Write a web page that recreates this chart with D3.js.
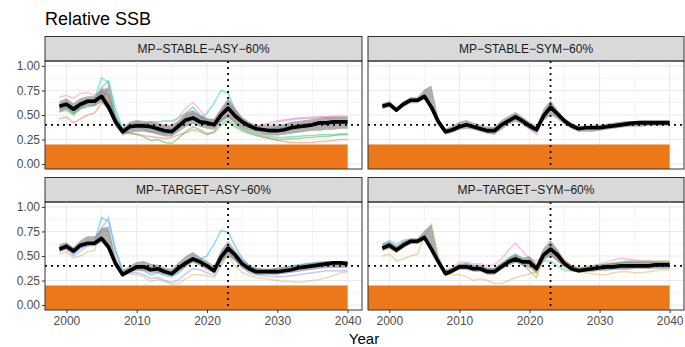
<!DOCTYPE html>
<html>
<head>
<meta charset="utf-8">
<script src="https://cdn.jsdelivr.net/npm/d3@7"></script>
<style>
  body { margin: 0; background: #fff; }
  svg { display: block; font-family: 'Liberation Sans', Arial, sans-serif; }
</style>
</head>
<body>
<div id="chart"></div>
<script>
// Relative SSB, 4 management procedures
const years = [1999, 2000, 2001, 2002, 2003, 2004, 2005, 2006, 2007, 2008,
  2009, 2010, 2011, 2012, 2013, 2014, 2015, 2016, 2017, 2018,
  2019, 2020, 2021, 2022, 2023, 2024, 2025, 2026, 2027, 2028,
  2029, 2030, 2031, 2032, 2033, 2034, 2035, 2036, 2037, 2038, 2039, 2040];

const panelNames = ['MP−STABLE−ASY−60%', 'MP−STABLE−SYM−60%', 'MP−TARGET−ASY−60%', 'MP−TARGET−SYM−60%'];

const limitRef = 0.2;   // orange zone
const targetRef = 0.4;  // horizontal dotted
const currentYear = 2023;
const yTicks = [0, 0.25, 0.5, 0.75, 1];
const xTicks = [2000, 2010, 2020, 2030, 2040];

// medians
const medStableAsy = [0.59, 0.61, 0.56, 0.61, 0.64, 0.64, 0.69, 0.58, 0.43, 0.33,
  0.38, 0.39, 0.39, 0.38, 0.36, 0.34, 0.33, 0.39, 0.45, 0.47,
  0.43, 0.42, 0.40, 0.50, 0.57, 0.49, 0.43, 0.39, 0.36, 0.35,
  0.34, 0.34, 0.35, 0.37, 0.38, 0.39, 0.40, 0.42, 0.42, 0.43, 0.43, 0.43];
const medStableSym = [0.59, 0.61, 0.55, 0.61, 0.65, 0.65, 0.69, 0.58, 0.43, 0.33,
  0.35, 0.38, 0.40, 0.38, 0.36, 0.34, 0.34, 0.40, 0.44, 0.48,
  0.44, 0.39, 0.35, 0.49, 0.58, 0.51, 0.44, 0.39, 0.36, 0.37,
  0.37, 0.37, 0.38, 0.39, 0.40, 0.41, 0.42, 0.42, 0.42, 0.42, 0.42, 0.42];
const medTargetAsy = [0.57, 0.60, 0.55, 0.61, 0.63, 0.63, 0.68, 0.59, 0.42, 0.31,
  0.35, 0.39, 0.39, 0.36, 0.37, 0.34, 0.32, 0.38, 0.43, 0.47,
  0.44, 0.40, 0.35, 0.49, 0.58, 0.51, 0.42, 0.37, 0.34, 0.34,
  0.34, 0.34, 0.35, 0.36, 0.38, 0.39, 0.40, 0.41, 0.42, 0.43, 0.43, 0.42];
const medTargetSym = [0.58, 0.61, 0.56, 0.61, 0.65, 0.65, 0.69, 0.57, 0.44, 0.32,
  0.35, 0.39, 0.39, 0.37, 0.37, 0.34, 0.34, 0.39, 0.44, 0.47,
  0.44, 0.44, 0.37, 0.51, 0.57, 0.51, 0.42, 0.37, 0.35, 0.36,
  0.37, 0.38, 0.39, 0.39, 0.40, 0.40, 0.40, 0.40, 0.40, 0.41, 0.41, 0.41];

// ribbons (lower / upper)
const loStableAsy = [0.53, 0.56, 0.51, 0.56, 0.59, 0.59, 0.63, 0.54, 0.38, 0.29,
  0.32, 0.33, 0.33, 0.32, 0.30, 0.28, 0.28, 0.33, 0.38, 0.41,
  0.38, 0.36, 0.35, 0.43, 0.47, 0.42, 0.37, 0.34, 0.32, 0.30,
  0.29, 0.29, 0.30, 0.31, 0.32, 0.33, 0.34, 0.34, 0.35, 0.35, 0.36, 0.36];
const hiStableAsy = [0.64, 0.67, 0.62, 0.67, 0.69, 0.69, 0.77, 0.77, 0.49, 0.37,
  0.43, 0.45, 0.44, 0.43, 0.42, 0.40, 0.39, 0.45, 0.52, 0.55,
  0.50, 0.47, 0.46, 0.57, 0.67, 0.57, 0.48, 0.43, 0.40, 0.39,
  0.39, 0.40, 0.41, 0.43, 0.44, 0.45, 0.46, 0.47, 0.48, 0.48, 0.48, 0.48];
const loStableSym = [0.56, 0.58, 0.53, 0.58, 0.62, 0.62, 0.66, 0.56, 0.40, 0.30,
  0.32, 0.35, 0.36, 0.35, 0.33, 0.31, 0.30, 0.35, 0.40, 0.43,
  0.40, 0.35, 0.32, 0.44, 0.50, 0.46, 0.40, 0.36, 0.33, 0.33,
  0.33, 0.34, 0.35, 0.36, 0.37, 0.38, 0.38, 0.38, 0.39, 0.39, 0.39, 0.39];
const hiStableSym = [0.62, 0.64, 0.58, 0.64, 0.68, 0.68, 0.76, 0.80, 0.47, 0.36,
  0.39, 0.43, 0.45, 0.42, 0.40, 0.38, 0.38, 0.45, 0.49, 0.53,
  0.48, 0.43, 0.39, 0.56, 0.65, 0.55, 0.47, 0.42, 0.39, 0.39,
  0.40, 0.40, 0.41, 0.42, 0.43, 0.44, 0.44, 0.45, 0.45, 0.45, 0.45, 0.45];
const loTargetAsy = [0.54, 0.57, 0.52, 0.58, 0.60, 0.60, 0.64, 0.56, 0.39, 0.29,
  0.33, 0.35, 0.35, 0.33, 0.33, 0.31, 0.29, 0.34, 0.39, 0.43,
  0.40, 0.36, 0.32, 0.44, 0.50, 0.45, 0.38, 0.34, 0.31, 0.31,
  0.31, 0.31, 0.32, 0.33, 0.34, 0.35, 0.36, 0.37, 0.38, 0.38, 0.38, 0.38];
const hiTargetAsy = [0.62, 0.64, 0.59, 0.66, 0.70, 0.70, 0.78, 0.80, 0.47, 0.35,
  0.40, 0.44, 0.45, 0.42, 0.41, 0.38, 0.37, 0.44, 0.50, 0.54,
  0.49, 0.45, 0.40, 0.56, 0.65, 0.56, 0.47, 0.41, 0.38, 0.37,
  0.37, 0.38, 0.39, 0.40, 0.41, 0.42, 0.43, 0.44, 0.45, 0.45, 0.45, 0.45];
const loTargetSym = [0.55, 0.58, 0.53, 0.58, 0.62, 0.62, 0.66, 0.55, 0.41, 0.29,
  0.33, 0.36, 0.36, 0.34, 0.34, 0.31, 0.31, 0.36, 0.40, 0.43,
  0.40, 0.38, 0.32, 0.46, 0.50, 0.45, 0.39, 0.35, 0.33, 0.34,
  0.34, 0.35, 0.35, 0.36, 0.36, 0.36, 0.37, 0.37, 0.37, 0.37, 0.37, 0.37];
const hiTargetSym = [0.62, 0.65, 0.60, 0.65, 0.68, 0.68, 0.76, 0.82, 0.48, 0.36,
  0.38, 0.42, 0.43, 0.41, 0.41, 0.38, 0.38, 0.43, 0.48, 0.52,
  0.48, 0.50, 0.42, 0.58, 0.66, 0.57, 0.46, 0.41, 0.38, 0.39,
  0.40, 0.41, 0.42, 0.43, 0.43, 0.44, 0.44, 0.44, 0.44, 0.44, 0.44, 0.44];

// individual iterations (worms)
const saPink = [0.68, 0.70, 0.67, 0.72, 0.73, 0.70, 0.75, 0.62, 0.45, 0.35,
  0.40, 0.42, 0.41, 0.40, 0.38, 0.38, 0.40, 0.48, 0.57, 0.63,
  0.55, 0.45, 0.45, 0.55, 0.63, 0.55, 0.45, 0.40, 0.38, 0.39,
  0.40, 0.42, 0.44, 0.45, 0.46, 0.47, 0.48, 0.48, 0.48, 0.49, 0.49, 0.49];
const saSalmon = [0.46, 0.48, 0.42, 0.46, 0.50, 0.52, 0.62, 0.80, 0.45, 0.33,
  0.31, 0.31, 0.29, 0.28, 0.27, 0.26, 0.27, 0.30, 0.32, 0.35,
  0.33, 0.30, 0.33, 0.45, 0.50, 0.42, 0.36, 0.32, 0.30, 0.28,
  0.26, 0.24, 0.23, 0.22, 0.22, 0.22, 0.22, 0.23, 0.23, 0.24, 0.25, 0.25];
const saGreen = [0.53, 0.55, 0.50, 0.56, 0.58, 0.60, 0.74, 0.70, 0.45, 0.33,
  0.32, 0.30, 0.28, 0.24, 0.25, 0.22, 0.21, 0.27, 0.33, 0.38,
  0.35, 0.31, 0.32, 0.40, 0.43, 0.38, 0.34, 0.31, 0.29, 0.27,
  0.26, 0.25, 0.25, 0.26, 0.26, 0.27, 0.27, 0.28, 0.28, 0.29, 0.30, 0.30];
const saMint = [0.55, 0.57, 0.52, 0.58, 0.62, 0.64, 0.78, 0.85, 0.55, 0.36,
  0.38, 0.40, 0.41, 0.43, 0.43, 0.44, 0.44, 0.47, 0.52, 0.58,
  0.50, 0.43, 0.40, 0.42, 0.45, 0.40, 0.36, 0.33, 0.31, 0.29,
  0.28, 0.27, 0.27, 0.28, 0.28, 0.29, 0.29, 0.30, 0.30, 0.30, 0.31, 0.31];
const saCyan = [0.60, 0.62, 0.57, 0.62, 0.65, 0.66, 0.88, 0.83, 0.50, 0.34,
  0.37, 0.38, 0.36, 0.33, 0.33, 0.31, 0.32, 0.38, 0.44, 0.48,
  0.46, 0.52, 0.62, 0.75, 0.72, 0.55, 0.46, 0.40, 0.37, 0.36,
  0.36, 0.37, 0.38, 0.39, 0.40, 0.41, 0.41, 0.42, 0.42, 0.42, 0.43, 0.43];
const saPurple = [0.57, 0.60, 0.56, 0.62, 0.64, 0.64, 0.70, 0.62, 0.45, 0.34,
  0.40, 0.42, 0.40, 0.38, 0.36, 0.35, 0.36, 0.42, 0.48, 0.52,
  0.48, 0.42, 0.43, 0.52, 0.62, 0.52, 0.44, 0.40, 0.38, 0.40,
  0.42, 0.44, 0.45, 0.46, 0.47, 0.47, 0.47, 0.48, 0.48, 0.48, 0.48, 0.48];
const ssPurple = [0.58, 0.60, 0.55, 0.62, 0.65, 0.66, 0.69, 0.57, 0.42, 0.31,
  0.34, 0.37, 0.39, 0.37, 0.35, 0.33, 0.33, 0.39, 0.43, 0.47,
  0.42, 0.36, 0.30, 0.47, 0.56, 0.50, 0.43, 0.38, 0.36, 0.37,
  0.38, 0.39, 0.40, 0.41, 0.42, 0.43, 0.43, 0.44, 0.44, 0.44, 0.44, 0.44];
const taCyan = [0.56, 0.58, 0.52, 0.58, 0.62, 0.64, 0.89, 0.85, 0.55, 0.36,
  0.36, 0.37, 0.35, 0.31, 0.33, 0.30, 0.29, 0.33, 0.40, 0.46,
  0.47, 0.50, 0.62, 0.76, 0.74, 0.60, 0.48, 0.40, 0.37, 0.36,
  0.36, 0.37, 0.38, 0.40, 0.41, 0.42, 0.43, 0.44, 0.44, 0.44, 0.44, 0.44];
const taLavender = [0.55, 0.57, 0.50, 0.55, 0.60, 0.62, 0.78, 0.89, 0.55, 0.34,
  0.33, 0.33, 0.31, 0.27, 0.28, 0.25, 0.23, 0.26, 0.32, 0.37,
  0.36, 0.33, 0.30, 0.42, 0.55, 0.46, 0.38, 0.33, 0.31, 0.30,
  0.29, 0.29, 0.29, 0.30, 0.31, 0.32, 0.33, 0.34, 0.35, 0.35, 0.35, 0.35];
const taTan = [0.52, 0.54, 0.48, 0.50, 0.54, 0.56, 0.78, 0.75, 0.48, 0.33,
  0.32, 0.31, 0.29, 0.24, 0.26, 0.24, 0.21, 0.22, 0.27, 0.31,
  0.31, 0.30, 0.28, 0.40, 0.50, 0.40, 0.33, 0.30, 0.28, 0.27,
  0.26, 0.25, 0.24, 0.24, 0.23, 0.24, 0.25, 0.26, 0.28, 0.30, 0.33, 0.34];
const tsPink = [0.62, 0.64, 0.60, 0.64, 0.66, 0.66, 0.70, 0.60, 0.45, 0.35,
  0.38, 0.44, 0.44, 0.42, 0.42, 0.40, 0.41, 0.47, 0.56, 0.63,
  0.55, 0.47, 0.45, 0.50, 0.52, 0.45, 0.40, 0.37, 0.37, 0.38,
  0.40, 0.42, 0.44, 0.46, 0.48, 0.47, 0.46, 0.45, 0.45, 0.44, 0.44, 0.44];
const tsTeal = [0.62, 0.66, 0.62, 0.66, 0.67, 0.66, 0.69, 0.58, 0.45, 0.34,
  0.37, 0.41, 0.41, 0.39, 0.39, 0.37, 0.37, 0.42, 0.48, 0.52,
  0.48, 0.43, 0.40, 0.45, 0.45, 0.40, 0.35, 0.35, 0.36, 0.37,
  0.38, 0.39, 0.40, 0.42, 0.43, 0.44, 0.44, 0.44, 0.44, 0.44, 0.43, 0.43];
const tsGreen = [0.58, 0.61, 0.56, 0.62, 0.65, 0.65, 0.68, 0.57, 0.43, 0.33,
  0.36, 0.40, 0.41, 0.39, 0.38, 0.36, 0.36, 0.41, 0.46, 0.50,
  0.46, 0.42, 0.38, 0.49, 0.55, 0.49, 0.42, 0.38, 0.37, 0.38,
  0.39, 0.40, 0.41, 0.42, 0.43, 0.44, 0.44, 0.44, 0.44, 0.44, 0.44, 0.44];
const tsOlive = [0.56, 0.58, 0.54, 0.60, 0.63, 0.64, 0.68, 0.58, 0.44, 0.31,
  0.34, 0.38, 0.38, 0.36, 0.36, 0.34, 0.33, 0.38, 0.43, 0.47,
  0.42, 0.35, 0.28, 0.48, 0.60, 0.55, 0.45, 0.40, 0.38, 0.39,
  0.40, 0.41, 0.42, 0.43, 0.44, 0.45, 0.45, 0.45, 0.45, 0.45, 0.45, 0.45];
const tsTan = [0.50, 0.52, 0.45, 0.47, 0.50, 0.52, 0.70, 0.82, 0.50, 0.32,
  0.31, 0.31, 0.29, 0.25, 0.27, 0.25, 0.22, 0.22, 0.25, 0.28,
  0.30, 0.32, 0.34, 0.45, 0.52, 0.45, 0.38, 0.35, 0.34, 0.33,
  0.32, 0.31, 0.31, 0.33, 0.34, 0.34, 0.33, 0.33, 0.34, 0.35, 0.36, 0.36];

const panels = [
  { name: panelNames[0], med: medStableAsy, lo: loStableAsy, hi: hiStableAsy,
    worms: [[saSalmon, '#F2784B'], [saGreen, '#3DB54A'], [saMint, '#22C28C'], [saCyan, '#1CC6D0'], [saPurple, '#B57BDB'], [saPink, '#FF8AC4']] },
  { name: panelNames[1], med: medStableSym, lo: loStableSym, hi: hiStableSym,
    worms: [[ssPurple, '#C77CE8']] },
  { name: panelNames[2], med: medTargetAsy, lo: loTargetAsy, hi: hiTargetAsy,
    worms: [[taTan, '#E0B45C'], [taLavender, '#8C95FF'], [taCyan, '#1BB3EC']] },
  { name: panelNames[3], med: medTargetSym, lo: loTargetSym, hi: hiTargetSym,
    worms: [[tsTan, '#E2B25E'], [tsOlive, '#A5B01E'], [tsGreen, '#4FBF63'], [tsTeal, '#2FCFC4'], [tsPink, '#F584DE']] },
];

const W = 685;
const H = 347;
const colX = [45, 368];
const colW = [317, 316];
const rowTop = [36.5, 177.5];
const stripH = 24.5;
const panelH = 108;

const svg = d3.select('#chart').append('svg').attr('width', W).attr('height', H);
svg.append('rect').attr('width', W).attr('height', H).attr('fill', '#fff');

svg.append('text')
  .attr('x', 45)
  .attr('y', 25)
  .style('font-size', '18px')
  .attr('fill', '#000')
  .text('Relative SSB');

svg.append('text')
  .attr('x', 364)
  .attr('y', 344)
  .attr('text-anchor', 'middle')
  .style('font-size', '15px')
  .attr('fill', '#000')
  .text('Year');

panels.forEach((p, i) => {
  const col = i % 2;
  const row = Math.floor(i / 2);
  const pw = colW[col];
  const left = colX[col];
  const top = rowTop[row] + stripH;

  const x = d3.scaleLinear().domain([1999 - 2.05, 2040 + 2.05]).range([0, pw]);
  const y = d3.scaleLinear().domain([-0.05, 1.05]).range([panelH, 0]);

  // strip
  svg.append('rect')
    .attr('x', left)
    .attr('y', rowTop[row])
    .attr('width', pw)
    .attr('height', stripH)
    .attr('fill', '#D9D9D9')
    .attr('stroke', '#333')
    .attr('stroke-width', 1);
  svg.append('text')
    .attr('x', left + pw / 2)
    .attr('y', rowTop[row] + stripH / 2 + 4.5)
    .attr('text-anchor', 'middle')
    .style('font-size', '12px')
    .attr('fill', '#1A1A1A')
    .text(p.name);

  const g = svg.append('g').attr('transform', `translate(${left},${top})`);
  const clipId = `clip${i}`;
  g.append('clipPath').attr('id', clipId)
    .append('rect').attr('width', pw).attr('height', panelH);

  // grid
  const grid = g.append('g');
  [0.125, 0.375, 0.625, 0.875].forEach((v) => {
    grid.append('line').attr('x1', 0).attr('x2', pw).attr('y1', y(v)).attr('y2', y(v))
      .attr('stroke', '#F2F2F2').attr('stroke-width', 0.8);
  });
  [2005, 2015, 2025, 2035].forEach((v) => {
    grid.append('line').attr('x1', x(v)).attr('x2', x(v)).attr('y1', 0).attr('y2', panelH)
      .attr('stroke', '#F2F2F2').attr('stroke-width', 0.8);
  });
  yTicks.forEach((v) => {
    grid.append('line').attr('x1', 0).attr('x2', pw).attr('y1', y(v)).attr('y2', y(v))
      .attr('stroke', '#EBEBEB').attr('stroke-width', 1.1);
  });
  xTicks.forEach((v) => {
    grid.append('line').attr('x1', x(v)).attr('x2', x(v)).attr('y1', 0).attr('y2', panelH)
      .attr('stroke', '#EBEBEB').attr('stroke-width', 1.1);
  });

  const inner = g.append('g').attr('clip-path', `url(#${clipId})`);

  // limit zone
  inner.append('rect')
    .attr('x', 0)
    .attr('y', y(limitRef))
    .attr('width', x(2040))
    .attr('height', panelH - y(limitRef))
    .attr('fill', '#EC781A');

  const line = d3.line().x((d, k) => x(years[k])).y((d) => y(d));

  p.worms.forEach(([vals, c]) => {
    inner.append('path')
      .attr('d', line(vals))
      .attr('fill', 'none')
      .attr('stroke', c)
      .attr('stroke-width', 1.5)
      .attr('stroke-opacity', 0.5);
  });

  const area = d3.area()
    .x((d, k) => x(years[k]))
    .y0((d, k) => y(p.lo[k]))
    .y1((d, k) => y(p.hi[k]));
  inner.append('path')
    .attr('d', area(p.med))
    .attr('fill', '#808080')
    .attr('fill-opacity', 0.62);

  inner.append('path')
    .attr('d', line(p.med))
    .attr('fill', 'none')
    .attr('stroke', '#000')
    .attr('stroke-width', 3.7)
    .attr('stroke-linejoin', 'round');

  // reference lines
  inner.append('line')
    .attr('x1', 0).attr('x2', pw)
    .attr('y1', y(targetRef)).attr('y2', y(targetRef))
    .attr('stroke', '#000').attr('stroke-width', 1.8).attr('stroke-dasharray', '2 4');
  inner.append('line')
    .attr('x1', x(currentYear)).attr('x2', x(currentYear))
    .attr('y1', 0).attr('y2', panelH)
    .attr('stroke', '#000').attr('stroke-width', 1.8).attr('stroke-dasharray', '2 4');

  // border
  g.append('rect')
    .attr('width', pw)
    .attr('height', panelH)
    .attr('fill', 'none')
    .attr('stroke', '#333')
    .attr('stroke-width', 1);

  if (col === 0) {
    const ay = g.append('g')
      .call(d3.axisLeft(y).tickValues(yTicks).tickFormat(d3.format('.2f')).tickSize(3).tickPadding(2));
    ay.select('.domain').remove();
    ay.selectAll('line').attr('stroke', '#333');
    ay.selectAll('text').attr('fill', '#4D4D4D').style('font-size', '12px');
  }
  if (row === 1) {
    const ax = g.append('g')
      .attr('transform', `translate(0,${panelH})`)
      .call(d3.axisBottom(x).tickValues(xTicks).tickFormat(d3.format('d')).tickSize(3).tickPadding(3));
    ax.select('.domain').remove();
    ax.selectAll('line').attr('stroke', '#333');
    ax.selectAll('text').attr('fill', '#4D4D4D').style('font-size', '12px');
  }
});
</script>
</body>
</html>
